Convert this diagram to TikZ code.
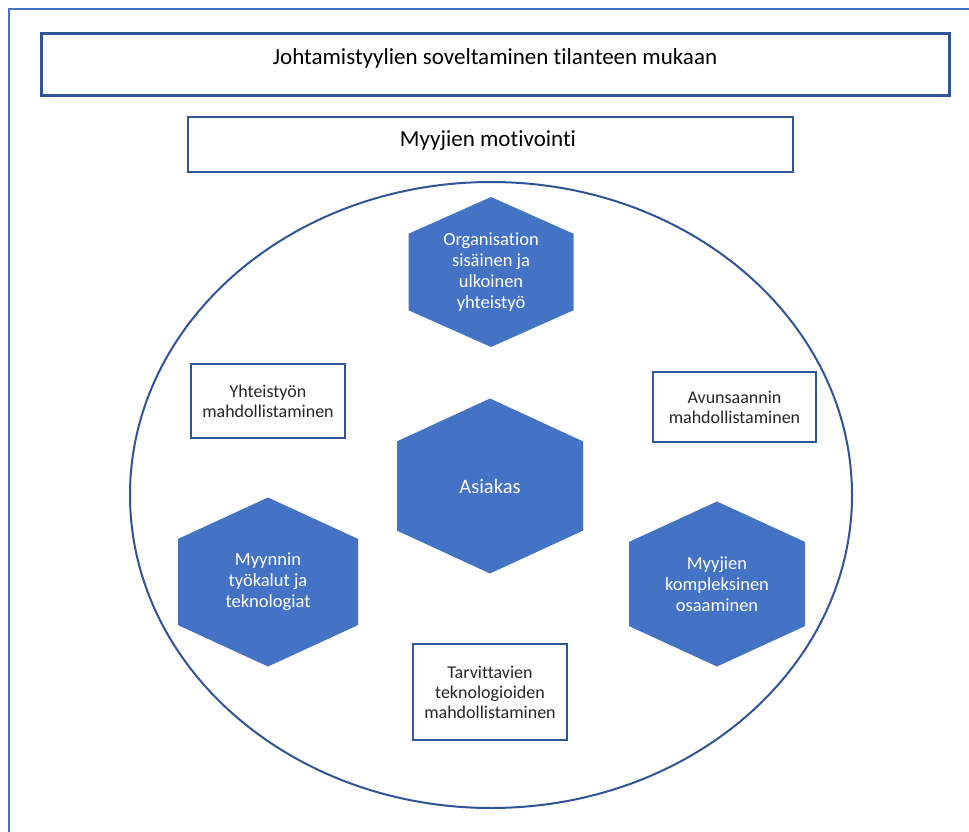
\documentclass[tikz,border=0pt]{standalone}
\usepackage{fontspec}
\setmainfont[Ligatures={NoCommon}]{Carlito}
\definecolor{hexblue}{HTML}{4472C4}
\definecolor{lineblue}{HTML}{2F5597}
\definecolor{txtgrey}{HTML}{262626}
\newcommand{\hexshape}[6]{% name, cx, cy, w, h, text
  \fill[hexblue] (#2,#3-#5/2) -- (#2+#4/2,#3-0.255*#5) -- (#2+#4/2,#3+0.255*#5)
    -- (#2,#3+#5/2) -- (#2-#4/2,#3+0.255*#5) -- (#2-#4/2,#3-0.255*#5) -- cycle;
  \node[hextext] (#1) at (#2,#3) {#6};
}
\begin{document}
\begin{tikzpicture}[x=1pt,y=-1pt,
  frameline/.style={draw=hexblue,line width=2pt},
  topbox/.style={draw=lineblue,line width=3pt,fill=white},
  midbox/.style={draw=lineblue,line width=2pt,fill=white},
  smallbox/.style={draw=lineblue,line width=2pt,fill=white,align=center,
    text=txtgrey,font=\fontsize{18}{20}\selectfont,inner sep=0pt},
  hextext/.style={text=white,align=center,font=\fontsize{18.5}{21}\selectfont,inner sep=0pt},
  bigtext/.style={text=black,font=\fontsize{23}{26}\selectfont,inner sep=0pt}]
\useasboundingbox (0,0) rectangle (969,832);
\fill[white] (0,0) rectangle (969,832);
% outer frame (cropped)
\coordinate (fbl) at (9,832);
\coordinate (ftl) at (9,9);
\coordinate (ftr) at (969,9);
\draw[frameline] (fbl) -- (ftl) -- (ftr);
% top boxes
\draw[topbox] (41,34) rectangle (949,96);
\node[bigtext] (johto) at (495,58) {Johtamistyylien soveltaminen tilanteen mukaan};
\draw[midbox] (188,117) rectangle (793,172);
\node[bigtext] (motiv) at (488,141) {Myyjien motivointi};
% ellipse
\draw[draw=lineblue,line width=2pt] (491,495) ellipse [x radius=361, y radius=313];
% hexagons
\hexshape{org}{491}{272}{165}{150}{Organisation\\sisäinen ja\\ulkoinen\\yhteistyö}
\hexshape{asiakas}{490}{486}{186}{175}{\fontsize{20.5}{23}\selectfont Asiakas}
\hexshape{tyokalut}{268}{582}{180}{169}{Myynnin\\työkalut ja\\teknologiat}
\hexshape{osaaminen}{717}{584}{176}{165}{Myyjien\\kompleksinen\\osaaminen}
% small boxes
\node[smallbox,minimum width=154pt,minimum height=74pt] (yht) at (268,401)
  {Yhteistyön\\mahdollistaminen};
\node[smallbox,minimum width=163pt,minimum height=70pt] (avun) at (734.5,407)
  {Avunsaannin\\mahdollistaminen};
\node[smallbox,minimum width=154pt,minimum height=96pt] (tarv) at (490,692)
  {Tarvittavien\\teknologioiden\\mahdollistaminen};
\end{tikzpicture}
\end{document}
